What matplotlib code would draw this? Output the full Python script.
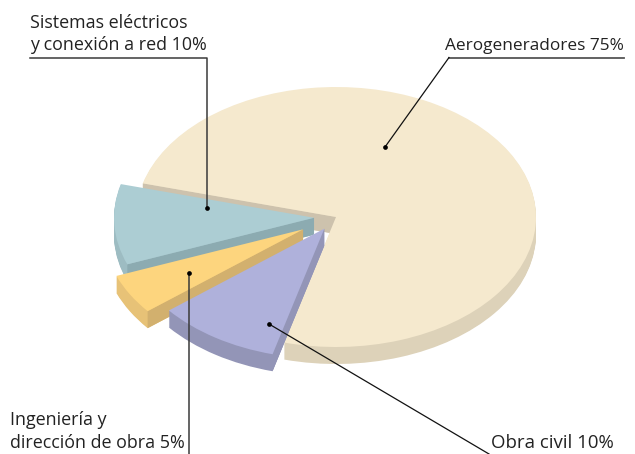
import numpy as np
import matplotlib
matplotlib.use('Agg')
import matplotlib.pyplot as plt

names = ['Aerogeneradores', 'Obra civil', 'Ingeniería', 'Sistemas']
values = [75, 10, 5, 10]
explode = [0, 0.107, 0.19, 0.11]
top_colors = ['#F5E9CE', '#AFB1DB', '#FDD57E', '#ACCDD3']
side_colors = ['#DDD2B9', '#9395B7', '#E7C277', '#9DBCC2']
cut_colors = ['#CDC2AD', '#9395B7', '#D2B06E', '#8CABB1']
draw_rank = [0, 3, 2, 1]

start = 165
W, H = 635, 454
cx, cy, rx, ry = 336, 217, 200, 130
depth = 17

plt.rcParams['font.family'] = ['Open Sans', 'DejaVu Sans']

fig = plt.figure(figsize=(W / 100, H / 100), dpi=100)
ax = fig.add_axes([0, 0, 1, 1])

# walls: stack of the same pie going down, one pixel per layer
for k in range(depth, 0, -1):
    wedges, _ = ax.pie(values, explode=explode, colors=side_colors, startangle=start,
                       counterclock=False, center=(0, -k / ry))
    for i, w in enumerate(wedges):
        w.set_zorder(draw_rank[i] * 100 + 1)

# the straight cut faces, different shade from the round wall
angles = start - np.cumsum([0] + values[:-1]) * 3.6
mids = angles - np.array(values) * 3.6 / 2
for i in range(len(values)):
    a = np.radians(angles[i])
    m = np.radians(mids[i])
    ox, oy = explode[i] * np.cos(m), explode[i] * np.sin(m)
    ex, ey = ox + np.cos(a), oy + np.sin(a)
    d = depth / ry
    ax.fill([ox, ex, ex, ox], [oy, ey, ey - d, oy - d], color=cut_colors[i], lw=0,
            zorder=draw_rank[i] * 100 + 2)

wedges, _ = ax.pie(values, explode=explode, colors=top_colors, startangle=start,
                   counterclock=False)
for i, w in enumerate(wedges):
    w.set_zorder(draw_rank[i] * 100 + 3)

ax.set_aspect('auto')
ax.set_xlim((0 - cx) / rx, (W - cx) / rx)
ax.set_ylim((cy - H) / ry, cy / ry)
ax.axis('off')

# overlay in pixels for labels and leaders
ov = fig.add_axes([0, 0, 1, 1], facecolor='none')
ov.set_xlim(0, W)
ov.set_ylim(H, 0)
ov.axis('off')

ov.plot([30, 206.5, 206.5], [57.5, 57.5, 208], color='#3a3a3a', lw=1.1)
ov.plot([624, 449], [57.5, 57.5], color='#555555', lw=1.3)
ov.plot([449, 385], [57.5, 147], color='#111111', lw=0.9)
ov.plot([188.5, 188.5], [273, 454], color='#3a3a3a', lw=1.1)
ov.plot([269, 489], [324, 454], color='#111111', lw=0.9)
ov.plot([206.5, 385, 188.5, 269], [208, 147, 273, 324], 'o', color='black', ms=3.4, mew=0)

ink = '#222222'
ov.text(30, 27.5, 'Sistemas eléctricos', fontsize=12.9, color=ink)
ov.text(30, 50, 'y conexión a red 10%', fontsize=12.9, color=ink)
ov.text(624, 50.5, 'Aerogeneradores 75%', fontsize=12.45, color=ink, ha='right')
ov.text(10, 425, 'Ingeniería y', fontsize=12.9, color=ink)
ov.text(10, 448, 'dirección de obra 5%', fontsize=12.9, color=ink)
ov.text(491, 448, 'Obra civil 10%', fontsize=13.4, color=ink)

fig.savefig('out.png', dpi=100)
